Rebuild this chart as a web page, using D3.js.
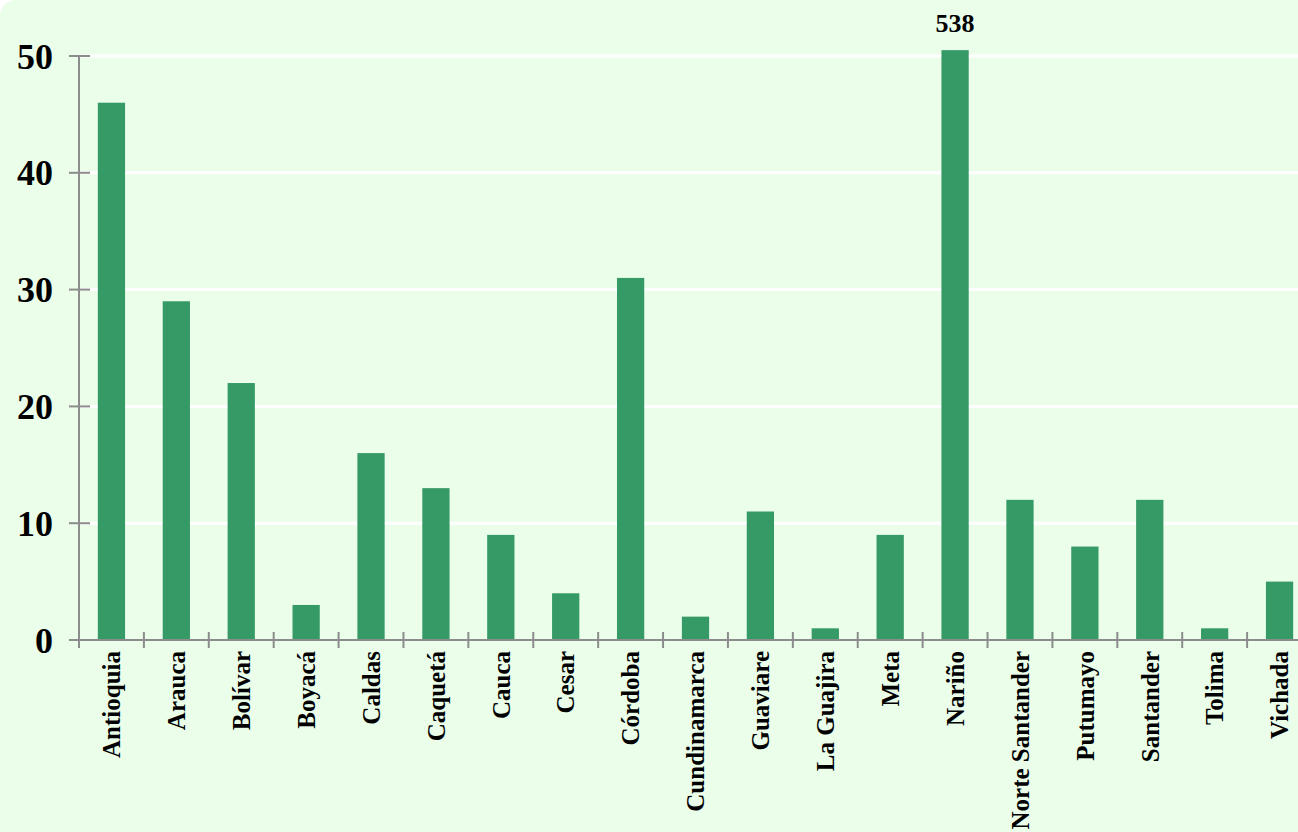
<!DOCTYPE html>
<html>
<head>
<meta charset="utf-8">
<script src="https://cdn.jsdelivr.net/npm/d3@7"></script>
<style>
  html, body { margin: 0; padding: 0; background: #ffffff; overflow: hidden; }
  svg { display: block; font-family: "Liberation Serif", "Times New Roman", serif; font-weight: bold; }
</style>
</head>
<body>
<svg id="chart" width="1298" height="832"></svg>
<script>
var categories = ["Antioquia", "Arauca", "Bolívar", "Boyacá", "Caldas", "Caquetá", "Cauca", "Cesar",
    "Córdoba", "Cundinamarca", "Guaviare", "La Guajira", "Meta", "Nariño", "Norte Santander",
    "Putumayo", "Santander", "Tolima", "Vichada"];
var values = [46, 29, 22, 3, 16, 13, 9, 4, 31, 2, 11, 1, 9, 538, 12, 8, 12, 1, 5];
var yTicks = [0, 10, 20, 30, 40, 50];
var yCap = 50.5; // bars taller than this are cut and labelled

var svg = d3.select("#chart");

// background
svg.append("rect")
    .attr("x", 0)
    .attr("y", 0)
    .attr("width", 1340)
    .attr("height", 880)
    .attr("rx", 16)
    .style("fill", "#eafeea");

var x = d3.scaleBand()
    .domain(categories)
    .range([79, 1312])
    .paddingInner(0.58)
    .paddingOuter(0.29);

var y = d3.scaleLinear()
    .domain([0, 50])
    .range([640, 56]);

var step = x.step(),
    gap = step - x.bandwidth();

//gridlines
svg.selectAll("line.grid")
    .data(yTicks.filter(function(d){ return d > 0; })).enter()
    .append("line")
    .attr("class", "grid")
    .attr("x1", 79)
    .attr("x2", 1298)
    .attr("y1", function(d){ return y(d); })
    .attr("y2", function(d){ return y(d); })
    .style("stroke", "#ffffff")
    .style("stroke-width", 3);

//bars
svg.selectAll("rect.bar")
    .data(values).enter()
    .append("rect")
    .attr("class", "bar")
    .attr("x", function(d, i){ return x(categories[i]); })
    .attr("y", function(d){ return y(Math.min(d, yCap)); })
    .attr("width", x.bandwidth())
    .attr("height", function(d){ return y(0) - y(Math.min(d, yCap)); })
    .style("fill", "#359a66");

//label for cut bars
svg.selectAll("text.over")
    .data(values.map(function(d, i){ return {v: d, c: categories[i]}; })
        .filter(function(d){ return d.v > yCap; })).enter()
    .append("text")
    .attr("class", "over")
    .attr("x", function(d){ return x(d.c) + x.bandwidth() / 2; })
    .attr("y", function(d){ return y(yCap) - 18; })
    .attr("text-anchor", "middle")
    .attr("font-size", "26px")
    .text(function(d){ return d.v; });

//y axis
var axisCol = "#8c8c8c";
svg.append("line")
    .attr("x1", 79).attr("x2", 79)
    .attr("y1", y(50)).attr("y2", y(0) + 8)
    .style("stroke", axisCol)
    .style("stroke-width", 2);

svg.selectAll("line.ytick")
    .data(yTicks).enter()
    .append("line")
    .attr("class", "ytick")
    .attr("x1", 69).attr("x2", 90)
    .attr("y1", function(d){ return y(d); })
    .attr("y2", function(d){ return y(d); })
    .style("stroke", axisCol)
    .style("stroke-width", 2);

svg.selectAll("text.ylab")
    .data(yTicks).enter()
    .append("text")
    .attr("class", "ylab")
    .attr("x", 53)
    .attr("y", function(d){ return y(d); })
    .attr("dy", "0.35em")
    .attr("text-anchor", "end")
    .attr("font-size", "36px")
    .text(function(d){ return d; });

//x axis
svg.append("line")
    .attr("x1", 69).attr("x2", 1298)
    .attr("y1", y(0)).attr("y2", y(0))
    .style("stroke", axisCol)
    .style("stroke-width", 2);

svg.selectAll("line.xtick")
    .data(categories).enter()
    .append("line")
    .attr("class", "xtick")
    .attr("x1", function(d){ return x(d) - gap / 2; })
    .attr("x2", function(d){ return x(d) - gap / 2; })
    .attr("y1", y(0) - 8)
    .attr("y2", y(0) + 8)
    .style("stroke", axisCol)
    .style("stroke-width", 2);

svg.selectAll("text.xlab")
    .data(categories).enter()
    .append("text")
    .attr("class", "xlab")
    .attr("transform", function(d){
        return "translate(" + (x(d) + x.bandwidth() / 2) + "," + (y(0) + 11) + ") rotate(-90)";
    })
    .attr("dy", "0.35em")
    .attr("text-anchor", "end")
    .attr("font-size", "25px")
    .text(function(d){ return d; });
</script>
</body>
</html>
